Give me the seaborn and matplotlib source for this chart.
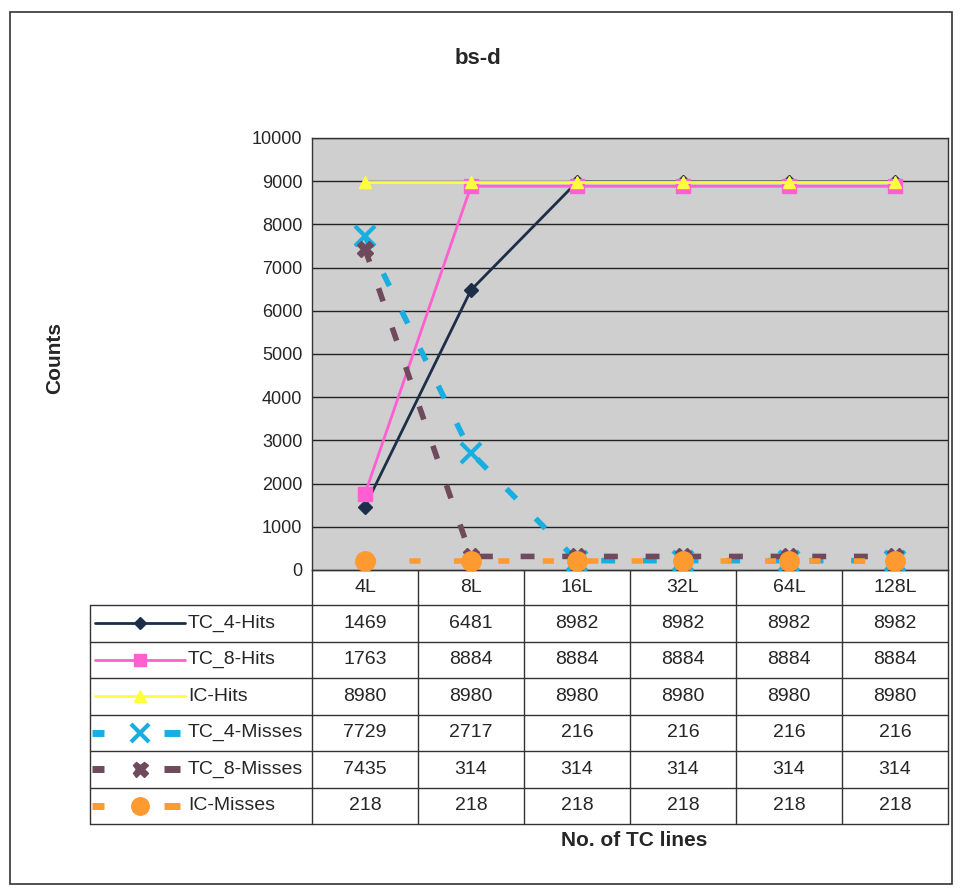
import matplotlib
matplotlib.use("Agg")
import matplotlib.pyplot as plt
import seaborn as sns
import pandas as pd
import numpy as np

categories = ["4L", "8L", "16L", "32L", "64L", "128L"]
series_names = ["TC_4-Hits", "TC_8-Hits", "IC-Hits", "TC_4-Misses", "TC_8-Misses", "IC-Misses"]
tc4_hits = [1469, 6481, 8982, 8982, 8982, 8982]
tc8_hits = [1763, 8884, 8884, 8884, 8884, 8884]
ic_hits = [8980, 8980, 8980, 8980, 8980, 8980]
tc4_misses = [7729, 2717, 216, 216, 216, 216]
tc8_misses = [7435, 314, 314, 314, 314, 314]
ic_misses = [218, 218, 218, 218, 218, 218]
values = [tc4_hits, tc8_hits, ic_hits, tc4_misses, tc8_misses, ic_misses]

colors = ["#1c2e48", "#ff5fd0", "#ffff40", "#19aee0", "#6e4a5c", "#ff9a30"]
markers = ["D", "s", "^", "x", "X", "o"]
msizes = [7, 10, 9, 14, 12, 14]
dashes = ["", "", "", (2.5, 5), (2.5, 5), (2, 6)]

sns.set_theme(style="white")
plt.rcParams["font.family"] = ["Liberation Sans", "DejaVu Sans"]

W, H = 962, 889
fig = plt.figure(figsize=(W / 100, H / 100), dpi=100)

bg = fig.add_axes([0, 0, 1, 1])
bg.set_xlim(0, W)
bg.set_ylim(H, 0)
bg.axis("off")
bg.add_patch(plt.Rectangle((10, 12), 942, 872, fill=False, lw=1.2, ec="#333333"))

L, R, T, B = 312, 948, 138, 570
ax = fig.add_axes([L / W, (H - B) / H, (R - L) / W, (B - T) / H])
ax.set_facecolor("#cfcfcf")

rows = []
for name, vals in zip(series_names, values):
    for c, v in zip(categories, vals):
        rows.append({"series": name, "cat": c, "value": v})
df = pd.DataFrame(rows)
df["x"] = df["cat"].map({c: i for i, c in enumerate(categories)})

for i, name in enumerate(series_names):
    sub = df[df["series"] == name]
    lw = 2.0 if i < 3 else 4.0
    sns.lineplot(data=sub, x="x", y="value", ax=ax, color=colors[i], lw=lw,
                 marker=markers[i], markersize=msizes[i],
                 markeredgecolor=colors[i], markeredgewidth=3 if markers[i] == "x" else 1,
                 dashes=False, linestyle="-" if not dashes[i] else (0, dashes[i]),
                 legend=False, zorder=3 + i)

ax.set_xlim(-0.5, 5.5)
ax.set_ylim(0, 10000)
ax.set_yticks(np.arange(0, 10001, 1000))
ax.set_yticklabels([str(v) for v in range(0, 10001, 1000)], fontsize=13)
ax.set_xticks([])
ax.set_xlabel("")
ax.set_ylabel("")
ax.grid(axis="y", color="#222222", lw=1.0)
ax.set_axisbelow(True)
for s in ax.spines.values():
    s.set_color("#333333")
    s.set_linewidth(1.0)
ax.tick_params(axis="y", length=4, direction="out", color="#333333", pad=3)

bg.text(478, 58, "bs-d", ha="center", va="center", fontsize=16, fontweight="bold")
bg.text(55, 358, "Counts", ha="center", va="center", rotation=90, fontsize=15, fontweight="bold")
bg.text(634, 840, "No. of TC lines", ha="center", va="center", fontsize=15, fontweight="bold")

col_w = (R - L) / 6
hdr_top, hdr_bot = B, 605
row_h = 36.5
leg_left = 90
tab_bot = hdr_bot + row_h * 6
lc = "#333333"
bg.plot([L, R], [hdr_top, hdr_top], color=lc, lw=1)
for j in range(7):
    x = L + j * col_w
    bg.plot([x, x], [hdr_top, tab_bot], color=lc, lw=1)
for j, c in enumerate(categories):
    bg.text(L + (j + 0.5) * col_w, (hdr_top + hdr_bot) / 2, c, ha="center", va="center", fontsize=14)
for k in range(7):
    y = hdr_bot + k * row_h
    bg.plot([leg_left, R], [y, y], color=lc, lw=1)
bg.plot([leg_left, leg_left], [hdr_bot, tab_bot], color=lc, lw=1)
for i, name in enumerate(series_names):
    yc = hdr_bot + (i + 0.5) * row_h
    if i < 3:
        bg.plot([95, 185], [yc, yc], color=colors[i], lw=2)
    else:
        bg.plot([92, 104], [yc, yc], color=colors[i], lw=5, solid_capstyle="butt")
        bg.plot([164, 180], [yc, yc], color=colors[i], lw=5, solid_capstyle="butt")
    bg.plot([140], [yc], marker=markers[i], color=colors[i], markersize=msizes[i] * 0.9,
            markeredgecolor=colors[i], markeredgewidth=3 if markers[i] == "x" else 1, lw=0)
    bg.text(188, yc, name, ha="left", va="center", fontsize=14)
    for j, v in enumerate(values[i]):
        bg.text(L + (j + 0.5) * col_w, yc, str(v), ha="center", va="center", fontsize=14)

fig.savefig("out.png", dpi=100)
